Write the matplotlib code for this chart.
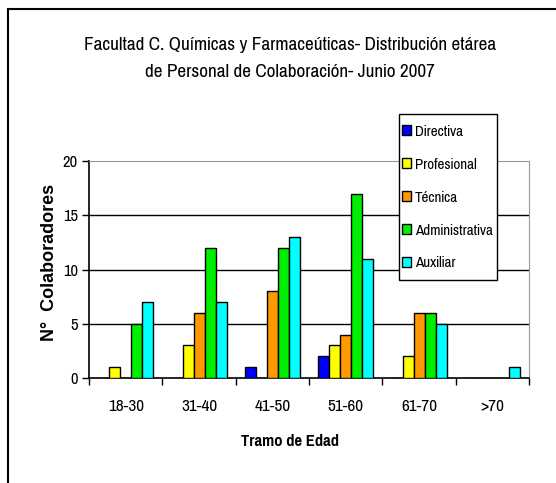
import matplotlib
matplotlib.use("Agg")
import matplotlib.pyplot as plt
from matplotlib.lines import Line2D
from matplotlib.patches import Rectangle
import numpy as np

# Age brackets and staff counts per category
tramos = ["18-30", "31-40", "41-50", "51-60", "61-70", ">70"]
directiva = [0, 0, 1, 2, 0, 0]
profesional = [1, 3, 0, 3, 2, 0]
tecnica = [0, 6, 8, 4, 6, 0]
administrativa = [5, 12, 12, 17, 6, 0]
auxiliar = [7, 7, 13, 11, 5, 1]

series = [
    ("Directiva", directiva, "#0000ff"),
    ("Profesional", profesional, "#ffff00"),
    ("Técnica", tecnica, "#ff9900"),
    ("Administrativa", administrativa, "#00ee00"),
    ("Auxiliar", auxiliar, "#00ffff"),
]

narrow = ["Pragati Narrow", "DejaVu Sans"]

fig = plt.figure(figsize=(5.56, 4.83), dpi=100)
ax = fig.add_axes([89 / 556, 1 - 378 / 483, 440 / 556, 217 / 483])

x = np.arange(len(tramos))
w = 0.15
for i, (name, vals, col) in enumerate(series):
    ax.bar(x + (i - 2) * w, vals, w, color=col, edgecolor="black",
           linewidth=1.0, label=name, zorder=3)

ax.set_xlim(-0.5, len(tramos) - 0.5)
ax.set_ylim(0, 20)
ax.set_yticks([0, 5, 10, 15, 20])
ax.set_xticks(x)
ax.set_xticklabels(tramos, family=narrow, fontsize=13.5)
ax.set_xticks(np.arange(len(tramos) + 1) - 0.5, minor=True)
ax.tick_params(axis="x", which="major", length=0, pad=15)
ax.tick_params(axis="x", which="minor", length=5, width=1, direction="out")
ax.tick_params(axis="y", length=5, width=1, direction="out", pad=3)
for lab in ax.get_yticklabels():
    lab.set_family(narrow)
    lab.set_fontsize(13)

for v in [5, 10, 15]:
    ax.axhline(v, color="black", linewidth=1.0, zorder=1)

ax.spines["top"].set_color("#999999")
ax.spines["right"].set_color("#999999")
ax.spines["left"].set_linewidth(1.2)
ax.spines["bottom"].set_linewidth(1.2)

ax.set_xlabel("Tramo de Edad", family=narrow, fontsize=13, fontweight="bold",
              va="center")
ax.xaxis.set_label_coords((290 - 89) / 440, -(441 - 378) / 217, transform=ax.transAxes)
ax.set_ylabel("N°  Colaboradores", fontsize=13, fontweight="bold",
              family=["Liberation Sans", "DejaVu Sans"], va="center")
ax.yaxis.set_label_coords(-(89 - 50) / 440, (378 - 262) / 217, transform=ax.transAxes)

fig.text(290 / 556, 1 - 45 / 483, "Facultad C. Químicas y Farmaceúticas- Distribución etárea",
         ha="center", va="center", family=narrow, fontsize=15)
fig.text(290 / 556, 1 - 72 / 483, "de Personal de Colaboración- Junio 2007",
         ha="center", va="center", family=narrow, fontsize=15)

# legend box drawn separately so its size can be set exactly
box = Rectangle((399 / 556, 1 - 280 / 483), 98 / 556, 166 / 483,
                transform=fig.transFigure, facecolor="white", edgecolor="black",
                linewidth=1.0, clip_on=False, zorder=4)
ax.add_patch(box)
leg = ax.legend(loc="upper left", bbox_to_anchor=(402 / 556, 1 - 125 / 483),
                bbox_transform=fig.transFigure, borderaxespad=0, borderpad=0,
                prop={"family": narrow, "size": 11.8}, frameon=False,
                handlelength=0.55, handleheight=0.55, handletextpad=0.25,
                labelspacing=1.15)
leg.set_zorder(5)

# outer chart frame (cropped on the right and bottom)
fig.add_artist(Line2D([8 / 556, 8 / 556], [0, 1 - 9 / 483], color="black",
                      linewidth=1.5, transform=fig.transFigure))
fig.add_artist(Line2D([8 / 556, 1], [1 - 9 / 483, 1 - 9 / 483], color="black",
                      linewidth=1.5, transform=fig.transFigure))

fig.savefig("out.png", dpi=100)
